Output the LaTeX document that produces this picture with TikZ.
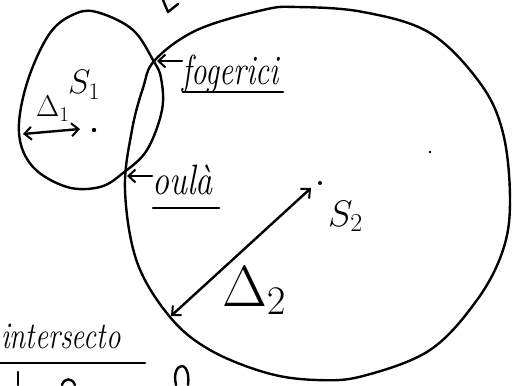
\RequirePackage{fix-cm}
\documentclass[tikz,border=0pt]{standalone}
\usetikzlibrary{arrows.meta}
\begin{document}
\begin{tikzpicture}[x=1pt,y=-1pt,
  ink/.style={line width=2.4pt,line cap=round,line join=round,black},
  barb/.style={ink,arrows={Straight Barb[length=7pt,width=13pt,line width=2pt]-}},
  dbarb/.style={ink,arrows={Straight Barb[length=7pt,width=13pt,line width=2pt]-Straight Barb[length=7pt,width=13pt,line width=2pt]}},
  lbl/.style={inner sep=0pt,font=\itshape},
  uline/.style={ink,line width=2.6pt}]
\useasboundingbox (0,0) rectangle (516,385);
\begin{scope}
\clip (0,0) rectangle (516,385);
% big circle
\draw[ink] plot[smooth cycle,tension=0.6] coordinates {
 (155,60) (197,30) (263,10) (297,7) (363,12) (430,33) (480,83) (503,133)
 (510,200) (503,250) (477,300) (430,350) (363,376) (317,380) (267,373)
 (210,350) (170,317) (137,262) (125,190) (132,130) (143,88)};
% small circle
\draw[ink] plot[smooth cycle,tension=0.6] coordinates {
 (153,60) (133,30) (100,13) (77,13) (50,33) (27,83) (19,133) (33,167)
 (67,187) (100,187) (123,173) (147,150) (162,110) (161,78)};
% fragments cut by the edges
\draw[ink] (163,0) -- (168,12) -- (178,4);
\draw[ink] (18,372) -- (18,385);
\draw[ink] (62,385) .. controls (64,378) and (72,377) .. (75,385);
\draw[ink] (176,385) .. controls (173,372) and (178,366) .. (182,366) .. controls (188,367) and (189,378) .. (188,385);
\end{scope}
% points
\coordinate (I1) at (157,61);
\coordinate (I2) at (127,176);
\coordinate (S1c) at (94,130);
\coordinate (S1e) at (23,134);
\coordinate (S1t) at (80,129);
\coordinate (S2c) at (320,183);
\coordinate (S2t) at (311,188);
\coordinate (S2e) at (171,316);
\fill (S1c) circle (2.2pt);
\fill (S2c) circle (2pt);
\fill (430,152) circle (1.3pt);
% S1
\node[lbl,anchor=base west,font=\fontsize{34}{36}\selectfont] (s1) at (68,94) {$S_1$};
\node[lbl,anchor=base west,font=\fontsize{30}{32}\selectfont] (d1) at (36,117) {$\Delta_1$};
\draw[dbarb] (S1e) -- (S1t);
% S2
\node[lbl,anchor=base west,font=\fontsize{37}{39}\selectfont] (s2) at (328,226) {$S_2$};
\node[lbl,anchor=base west,font=\fontsize{58}{60}\selectfont] (d2) at (222,306) {$\Delta_2$};
\draw[dbarb] (S2e) -- (S2t);
% labels
\node[lbl,anchor=base west,font=\fontsize{31}{33}\selectfont\itshape] (fog) at (182,85) {\scalebox{1}[1.35]{fogerici}};
\draw[uline] (183,92) -- (283,92);
\draw[barb] (I1) -- (fog.west |- I1) ;
\node[lbl,anchor=base west,font=\fontsize{34}{36}\selectfont\itshape] (oula) at (152,194) {\scalebox{1}[1.25]{oulà}};
\draw[uline] (153,208) -- (219,208);
\draw[barb] (I2) -- (oula.west |- I2);
\node[lbl,anchor=base west,font=\fontsize{29}{31}\selectfont\itshape] (inter) at (1,348) {\scalebox{1}[1.3]{intersecto}};
\draw[uline] (0,363) -- (145,363);
\end{tikzpicture}
\end{document}
